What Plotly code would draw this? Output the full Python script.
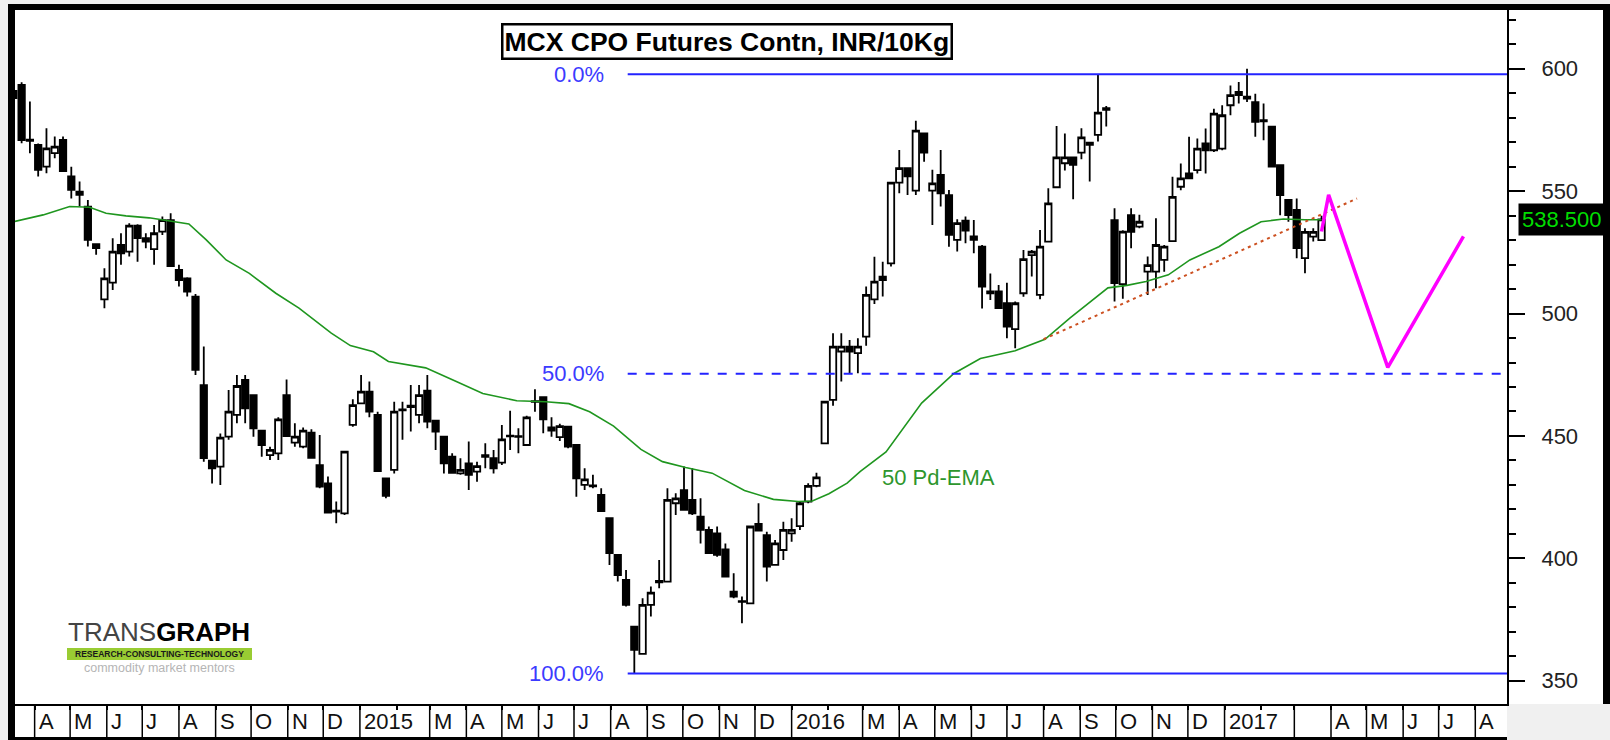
import pandas as pd
import plotly.graph_objects as go

# ---------------- weekly OHLC (MCX CPO continuous futures, INR/10Kg) ----------------
opens = [591.0, 593.4, 571.0, 568.9, 560.0, 565.5, 570.9, 556.0, 549.8, 543.7,
         528.3, 505.8, 512.6, 528.0, 525.3, 535.9, 530.8, 526.3, 533.5, 538.2,
         517.8, 514.4, 506.9, 470.8, 439.9, 437.5, 449.7, 458.6, 472.9, 466.7,
         452.2, 442.2, 442.9, 466.7, 447.3, 445.6, 451.3, 438.1, 430.6, 419.5,
         418.4, 454.5, 463.3, 468.1, 458.6, 432.7, 436.1, 460.8, 462.4, 458.6,
         468.5, 456.2, 449.7, 441.5, 434.7, 438.8, 435.4, 442.2, 440.9, 439.1,
         450.1, 449.9, 446.3, 464.2, 465.8, 453.5, 449.5, 453.8, 446.3, 430.0,
         429.8, 425.9, 416.4, 401.4, 391.2, 372.1, 361.0, 381.0, 390.8, 390.5,
         422.5, 427.9, 423.9, 417.0, 411.6, 410.2, 403.7, 386.4, 382.5, 381.6,
         414.1, 409.5, 397.3, 403.4, 410.2, 413.2, 423.2, 429.6, 447.0, 464.7,
         484.5, 486.5, 483.8, 490.6, 505.8, 515.1, 520.5, 553.5, 559.4, 550.2,
         573.6, 550.2, 556.6, 548.4, 530.1, 538.0, 531.5, 527.3, 509.0, 509.0,
         504.2, 493.6, 508.3, 523.9, 507.6, 529.4, 551.6, 561.4, 563.8, 565.7,
         569.8, 573.0, 583.9, 538.2, 512.0, 540.2, 535.5, 517.1, 517.1, 521.9,
         529.6, 551.8, 557.2, 558.6, 569.5, 566.7, 567.4, 585.1, 590.5, 588.6,
         586.4, 579.0, 576.3, 560.6, 546.4, 542.3, 522.6, 531.4, 530.0]
highs = [598.0, 594.5, 586.6, 569.5, 575.7, 572.3, 572.3, 560.0, 553.9, 546.4,
         528.7, 518.5, 530.8, 532.8, 536.9, 536.5, 532.8, 536.2, 539.6, 541.0,
         519.9, 514.8, 508.0, 486.5, 440.2, 451.0, 468.8, 474.9, 474.9, 467.0,
         452.5, 445.6, 457.6, 473.1, 455.2, 453.5, 452.7, 450.4, 433.4, 423.2,
         443.8, 465.0, 474.9, 472.2, 459.9, 432.9, 464.0, 464.0, 470.8, 470.8,
         474.9, 456.5, 449.9, 442.9, 440.9, 447.7, 439.5, 447.0, 444.3, 454.5,
         460.3, 453.1, 458.2, 469.1, 466.0, 457.6, 455.0, 454.2, 446.5, 436.8,
         434.1, 428.6, 416.6, 401.6, 395.2, 372.3, 383.7, 388.5, 399.3, 428.6,
         426.6, 437.5, 436.8, 424.5, 413.0, 413.0, 406.1, 393.9, 384.4, 413.2,
         422.5, 410.9, 407.5, 415.0, 416.4, 423.2, 430.7, 435.0, 464.2, 492.0,
         492.0, 489.2, 489.9, 511.0, 523.2, 521.2, 553.7, 566.8, 559.6, 578.8,
         573.8, 558.7, 566.8, 550.5, 538.5, 539.6, 538.2, 528.0, 516.4, 511.7,
         512.6, 504.9, 526.0, 526.0, 534.1, 551.2, 576.6, 573.6, 564.0, 575.7,
         570.0, 597.8, 584.8, 543.0, 534.0, 543.0, 540.4, 523.3, 538.9, 528.0,
         555.9, 561.3, 572.2, 571.5, 575.6, 583.7, 585.1, 593.2, 594.6, 600.0,
         589.8, 585.8, 576.5, 560.8, 546.6, 547.0, 534.8, 534.8, 540.0]
lows = [585.0, 569.6, 565.5, 556.0, 557.3, 563.4, 558.0, 547.0, 543.7, 527.4,
        524.0, 502.2, 509.6, 519.9, 523.3, 521.2, 526.7, 519.9, 532.1, 519.2,
        511.0, 507.0, 474.9, 439.5, 430.6, 430.0, 448.4, 455.2, 455.2, 449.7,
        441.5, 440.2, 440.2, 449.7, 445.6, 445.0, 440.9, 428.6, 418.4, 414.3,
        417.7, 453.8, 463.3, 457.6, 435.4, 424.5, 434.7, 448.4, 451.8, 455.2,
        453.1, 444.3, 434.7, 434.7, 434.1, 427.9, 431.3, 436.8, 434.7, 438.1,
        444.3, 442.9, 446.1, 459.9, 451.1, 449.7, 447.9, 445.0, 425.2, 427.9,
        428.6, 419.1, 397.3, 390.5, 380.3, 353.0, 360.8, 376.2, 387.8, 390.3,
        417.7, 419.6, 417.7, 406.1, 401.9, 400.7, 392.3, 383.7, 373.5, 381.4,
        411.1, 390.5, 397.1, 399.3, 406.8, 411.6, 422.5, 429.0, 446.8, 462.3,
        472.2, 475.6, 475.6, 486.8, 503.9, 507.0, 519.2, 549.1, 548.4, 548.4,
        562.0, 536.2, 543.7, 527.3, 525.3, 528.7, 524.6, 502.1, 505.5, 502.0,
        489.9, 485.8, 506.9, 515.1, 505.8, 529.2, 551.4, 558.4, 546.7, 563.0,
        553.9, 570.3, 576.4, 504.9, 506.0, 526.7, 534.8, 507.6, 510.3, 517.1,
        529.4, 550.4, 555.0, 557.2, 557.2, 566.0, 566.7, 581.0, 585.8, 586.4,
        572.2, 570.8, 559.8, 540.2, 537.5, 522.6, 516.5, 529.4, 529.8]
closes = [588.0, 570.9, 570.5, 558.7, 567.5, 568.2, 558.2, 550.5, 548.5, 530.1,
          526.7, 514.4, 525.3, 524.6, 535.9, 530.8, 529.4, 532.8, 538.2, 519.4,
          513.7, 509.0, 477.0, 440.9, 436.8, 449.3, 459.9, 470.4, 461.3, 453.1,
          446.3, 444.3, 456.8, 449.9, 449.7, 452.2, 441.1, 429.3, 418.7, 419.1,
          443.6, 462.6, 468.1, 459.9, 435.6, 425.5, 459.9, 460.5, 461.8, 466.7,
          455.9, 451.8, 438.8, 434.9, 436.1, 434.1, 437.7, 441.5, 436.8, 448.6,
          449.8, 449.6, 457.6, 463.9, 456.8, 452.2, 454.0, 445.6, 432.7, 432.3,
          429.4, 419.3, 402.1, 393.2, 381.0, 362.6, 381.0, 386.0, 390.2, 423.9,
          424.5, 419.8, 418.4, 411.6, 402.1, 401.4, 392.5, 384.4, 382.2, 413.0,
          411.3, 396.6, 406.1, 411.6, 411.6, 422.5, 429.6, 433.1, 464.0, 486.5,
          486.5, 484.5, 486.5, 507.6, 513.0, 513.7, 553.5, 559.4, 556.0, 574.7,
          565.7, 553.2, 549.1, 532.1, 536.9, 533.9, 530.1, 511.0, 508.3, 502.2,
          494.7, 504.2, 522.2, 525.3, 527.3, 545.0, 563.8, 563.8, 560.7, 572.0,
          568.9, 582.1, 583.2, 512.4, 533.5, 533.4, 537.5, 519.8, 528.0, 527.3,
          547.7, 555.2, 555.2, 567.4, 566.7, 581.7, 581.0, 589.2, 589.2, 587.8,
          578.3, 578.5, 560.0, 548.4, 540.2, 526.7, 533.4, 533.4, 538.5]

# 50-period EMA, sampled along the week index
ema_weeks = [0, 3.6, 6.8, 9.2, 11.2, 13.6, 16.4, 19.2, 21.2, 23.3, 25.7, 28.5,
             31.7, 34.5, 36.5, 38.4, 40.7, 43.5, 45.3, 49.8, 53.5, 56.7, 60.8,
             64.3, 67.1, 69.6, 72.5, 75.8, 78.4, 81.2, 84.4, 88.3, 91.8, 94.8,
             96.5, 98.5, 100.7, 102.3, 105.4, 109.7, 113.6, 116.8, 121.0, 124.6,
             127.6, 130.8, 132.2, 134.5, 136.8, 139.5, 142.1, 145.6, 148.1,
             150.7, 153.4, 156.0, 158.0]
ema_values = [537.5, 540.3, 543.7, 543.4, 541.0, 539.9, 539.1, 537.8, 536.6,
              530.1, 521.9, 516.4, 508.3, 502.2, 497.0, 492.0, 486.9, 484.4,
              480.4, 477.8, 472.2, 467.3, 464.4, 464.0, 463.2, 459.9, 454.0,
              444.5, 439.5, 437.1, 434.8, 427.7, 424.1, 423.2, 423.4, 426.4,
              430.7, 435.5, 443.5, 463.4, 475.5, 481.6, 484.8, 489.5, 498.1,
              507.0, 510.5, 511.5, 513.1, 515.8, 521.9, 527.3, 532.8, 537.5,
              538.6, 538.3, 538.3]

# Fibonacci retracement of the Aug-2015 low to Sep-2016 high
fib_levels = [597.8, 475.4, 353.0]
fib_labels = ["0.0%", "50.0%", "100.0%"]

# Rising support line and projected path
trend_x = ["2016-08-01", "2017-04-23"]
trend_y = [489.5, 547.0]
proj_x = ["2017-03-24", "2017-03-30", "2017-05-19", "2017-07-22"]
proj_y = [533.5, 548.5, 478.0, 531.5]

last_price = 538.5

# Month cells on the time band: None = no cell, "" = cell without text
month_starts = [d.strftime("%Y-%m-%d") for d in pd.date_range("2014-04-01", "2017-08-01", freq="MS")]
month_labels = ["A", "M", "J", "J", "A", "S", "O", "N", "D",
                "2015", None, "M", "A", "M", "J", "J", "A", "S", "O", "N", "D",
                "2016", None, "M", "A", "M", "J", "J", "A", "S", "O", "N", "D",
                "2017", None, "", "A", "M", "J", "J", "A"]

# ---------------- geometry ----------------
W_PX, H_PX = 1610, 740
L, R, T, B = 15, 1507, 10, 704
FONT = "Liberation Sans, Arial, sans-serif"
START = pd.Timestamp("2014-03-14")


def wk(i):
    return START + pd.Timedelta(days=7 * i)


def px(xp):
    return (xp - L) / (R - L)


def py(yp):
    return (B - yp) / (B - T)


dates = pd.date_range(START, periods=len(opens), freq="7D")
x_range = [wk(0.2), wk(180.4)]

fig = go.Figure()

fig.add_trace(go.Candlestick(
    x=dates, open=opens, high=highs, low=lows, close=closes,
    increasing=dict(fillcolor="white", line=dict(color="black", width=1.8)),
    decreasing=dict(fillcolor="black", line=dict(color="black", width=1.8)),
    whiskerwidth=0, showlegend=False, hoverinfo="skip",
))

fig.add_trace(go.Scatter(
    x=[wk(i) for i in ema_weeks], y=ema_values, mode="lines",
    line=dict(color="#1f961f", width=1.6), showlegend=False, hoverinfo="skip",
))

fig.add_trace(go.Scatter(
    x=trend_x, y=trend_y, mode="lines",
    line=dict(color="#cc5020", width=2, dash="3px,4px"), showlegend=False, hoverinfo="skip",
))

fig.add_trace(go.Scatter(
    x=proj_x, y=proj_y, mode="lines",
    line=dict(color="#ff00ff", width=3.5), showlegend=False, hoverinfo="skip",
))

shapes = []
annotations = []

# white panels for the price scale and the time band
shapes.append(dict(type="rect", xref="paper", yref="paper", x0=1, x1=px(1603),
                   y0=0, y1=1, fillcolor="white", line_width=0, layer="below"))
shapes.append(dict(type="rect", xref="paper", yref="paper", x0=0, x1=1,
                   y0=py(737), y1=0, fillcolor="white", line_width=0, layer="below"))

# Fibonacci levels
fib_start = wk(74.2)
for lvl, lab in zip(fib_levels, fib_labels):
    shapes.append(dict(type="line", xref="x", yref="y", x0=fib_start, x1=x_range[1],
                       y0=lvl, y1=lvl,
                       line=dict(color="#2323ff", width=2,
                                 dash="dash" if lab == "50.0%" else "solid")))
    annotations.append(dict(xref="paper", yref="y", x=px(606), y=lvl, text=lab,
                            showarrow=False, xanchor="right", yanchor="middle",
                            font=dict(family=FONT, size=22, color="#3b3bff")))

# month cells
for d, lab in zip(month_starts, month_labels):
    if lab is None:
        continue
    shapes.append(dict(type="line", xref="x", yref="paper", x0=d, x1=d,
                       y0=py(737), y1=0, line=dict(color="black", width=1.5)))
    if lab:
        annotations.append(dict(xref="x", yref="paper", x=d, y=py(721), text=lab,
                                showarrow=False, xanchor="left", yanchor="middle",
                                xshift=2, font=dict(family=FONT, size=22, color="#111")))

# frame
black = dict(color="black", width=0)
shapes += [
    dict(type="rect", xref="paper", yref="paper", x0=px(8), x1=px(1610), y0=py(10), y1=py(4),
         fillcolor="black", line=black),
    dict(type="rect", xref="paper", yref="paper", x0=px(8), x1=px(15), y0=py(740), y1=py(4),
         fillcolor="black", line=black),
    dict(type="rect", xref="paper", yref="paper", x0=px(1603), x1=px(1610), y0=0, y1=py(4),
         fillcolor="black", line=black),
    dict(type="rect", xref="paper", yref="paper", x0=px(8), x1=px(1507), y0=py(740), y1=py(737),
         fillcolor="black", line=black),
]

# logo
shapes.append(dict(type="rect", xref="paper", yref="paper", x0=px(67), x1=px(252),
                   y0=py(660), y1=py(648), fillcolor="#99cc33", line_width=0))
annotations += [
    dict(xref="paper", yref="paper", x=px(66), y=py(632),
         text="<span style='color:#444'>TRANS</span><b>GRAPH</b>", showarrow=False,
         xanchor="left", yanchor="middle",
         font=dict(family=FONT, size=26, color="black")),
    dict(xref="paper", yref="paper", x=px(159.5), y=py(654), text="<b>RESEARCH-CONSULTING-TECHNOLOGY</b>",
         showarrow=False, xanchor="center", yanchor="middle",
         font=dict(family=FONT, size=8.5, color="#1a1a1a")),
    dict(xref="paper", yref="paper", x=px(159.5), y=py(668), text="commodity market mentors",
         showarrow=False, xanchor="center", yanchor="middle",
         font=dict(family=FONT, size=12.5, color="#b5b5b5")),
]

# title
annotations.append(dict(xref="paper", yref="paper", x=px(727), y=py(41),
                        text="<b>MCX CPO Futures Contn, INR/10Kg</b>", showarrow=False,
                        xanchor="center", yanchor="middle", bgcolor="white",
                        bordercolor="black", borderwidth=2.5, borderpad=1,
                        font=dict(family=FONT, size=26.5, color="black")))

# EMA caption
annotations.append(dict(xref="paper", yref="y", x=px(880), y=433.2, text="50 Pd-EMA",
                        showarrow=False, xanchor="left", yanchor="middle",
                        font=dict(family=FONT, size=22, color="#2d962d")))

# last price tag
annotations.append(dict(xref="paper", yref="y", x=px(1518), y=last_price,
                        text=f"{last_price:.3f}", showarrow=False, xanchor="left",
                        yanchor="middle", bgcolor="black", borderpad=3,
                        font=dict(family=FONT, size=22, color="#00dd00")))

fig.update_layout(
    width=W_PX, height=H_PX,
    margin=dict(l=L, r=W_PX - R, t=T, b=H_PX - B),
    paper_bgcolor="#f0f0f0", plot_bgcolor="white",
    shapes=shapes, annotations=annotations,
    boxgap=0.12, boxgroupgap=0.12,
    showlegend=False,
    xaxis=dict(type="date", range=x_range, showgrid=False, zeroline=False,
               showline=True, linecolor="black", linewidth=2,
               tickvals=month_starts, showticklabels=False,
               ticks="outside", ticklen=4, tickwidth=1.5, tickcolor="black",
               rangeslider=dict(visible=False), fixedrange=True),
    yaxis=dict(side="right", range=[340.5, 624.0], showgrid=False, zeroline=False,
               showline=True, linecolor="black", linewidth=2,
               tickvals=[350, 400, 450, 500, 550, 600],
               ticks="outside", ticklen=16, tickwidth=2, tickcolor="black",
               ticklabelstandoff=12,
               minor=dict(dtick=10, tick0=0, ticks="outside", ticklen=7,
                          tickwidth=1.5, tickcolor="black", showgrid=False),
               tickfont=dict(family=FONT, size=22, color="#222"),
               fixedrange=True),
)

fig.write_html("out.html")
